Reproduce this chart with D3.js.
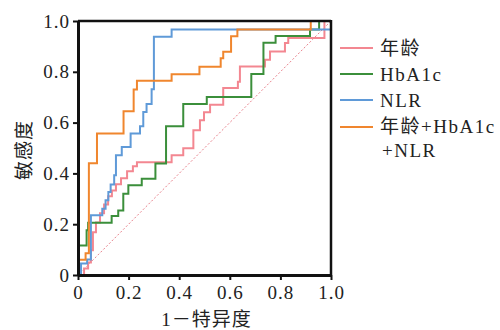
<!DOCTYPE html>
<html>
<head>
<meta charset="utf-8">
<script src="https://cdn.jsdelivr.net/npm/d3@7"></script>
<style>
  body { margin: 0; background: #fff; }
  text { font-family: "Liberation Serif", "Noto Sans CJK SC", serif; fill: #222; }
</style>
</head>
<body>
<div id="roc"></div>
<script>
// ROC curves, points are [1 - specificity, sensitivity] at the end of each step
const ageRoc = [[0, 0], [0.024, 0], [0.040, 0.026], [0.051, 0.049], [0.059, 0.097], [0.071, 0.168],
  [0.087, 0.207], [0.103, 0.243], [0.119, 0.278], [0.134, 0.31], [0.150, 0.333], [0.170, 0.357],
  [0.194, 0.381], [0.217, 0.408], [0.233, 0.428], [0.37, 0.444], [0.416, 0.471], [0.456, 0.499],
  [0.482, 0.570], [0.498, 0.609], [0.522, 0.641], [0.574, 0.670], [0.632, 0.736], [0.640, 0.761],
  [0.739, 0.821], [0.759, 0.847], [0.818, 0.880], [0.831, 0.913], [0.974, 0.933], [1, 1]];
const hba1cRoc = [[0, 0], [0.034, 0.116], [0.04, 0.176], [0.133, 0.206], [0.159, 0.232], [0.179, 0.254],
  [0.199, 0.32], [0.252, 0.353], [0.306, 0.379], [0.348, 0.439], [0.416, 0.586], [0.509, 0.673],
  [0.685, 0.701], [0.733, 0.791], [0.781, 0.914], [0.917, 0.941], [0.953, 0.967], [1, 1]];
const nlrRoc = [[0, 0], [0.012, 0], [0.036, 0.045], [0.051, 0.061], [0.096, 0.235], [0.109, 0.261],
  [0.12, 0.294], [0.129, 0.327], [0.143, 0.356], [0.150, 0.393], [0.173, 0.471], [0.208, 0.504],
  [0.245, 0.557], [0.258, 0.586], [0.271, 0.642], [0.291, 0.673], [0.300, 0.731], [0.37, 0.938],
  [1, 0.967], [1, 1]];
const comboRoc = [[0, 0], [0.03, 0.06], [0.043, 0.086], [0.075, 0.44], [0.18, 0.557], [0.22, 0.645],
  [0.233, 0.73], [0.37, 0.765], [0.48, 0.79], [0.564, 0.82], [0.574, 0.853], [0.605, 0.879],
  [0.63, 0.94], [0.92, 0.967], [1, 1]];

const seriesNames = [["年龄"], ["HbA1c"], ["NLR"], ["年龄+HbA1c", "+NLR"]];
const seriesColors = ["#f38791", "#3b8f3b", "#5f9ad8", "#f0862e"];
const tickValues = [0, 0.2, 0.4, 0.6, 0.8, 1.0];

const width = 500, height = 330;
const x = d3.scaleLinear().domain([0, 1]).range([78, 331]);
const y = d3.scaleLinear().domain([0, 1]).range([275, 21]);

const svg = d3.select("#roc")
  .append("svg")
  .attr("width", width)
  .attr("height", height);

// chance line
svg.append("line")
  .attr("x1", x(0)).attr("y1", y(0))
  .attr("x2", x(1)).attr("y2", y(1))
  .attr("stroke", "#e8808a")
  .attr("stroke-width", 1)
  .attr("stroke-dasharray", "2,2");

const line = d3.line()
  .x(d => x(d[0]))
  .y(d => y(d[1]))
  .curve(d3.curveStepBefore);

[ageRoc, hba1cRoc, nlrRoc, comboRoc].forEach((data, i) => {
  svg.append("path")
    .datum(data)
    .attr("d", line)
    .attr("fill", "none")
    .attr("stroke", seriesColors[i])
    .attr("stroke-width", 2);
});

// top and right frame
svg.append("line")
  .attr("x1", x(0)).attr("x2", x(1)).attr("y1", y(1)).attr("y2", y(1))
  .attr("stroke", "#111").attr("stroke-width", 2.5);
svg.append("line")
  .attr("x1", x(1)).attr("x2", x(1)).attr("y1", y(1) - 1).attr("y2", y(0))
  .attr("stroke", "#111").attr("stroke-width", 2.5);

const fmt = d => d === 0 ? "0" : d.toFixed(1);

const xAxis = svg.append("g")
  .attr("transform", `translate(0,${y(0)})`)
  .call(d3.axisBottom(x).tickValues(tickValues).tickFormat(fmt).tickSize(5).tickSizeOuter(0).tickPadding(6));

const yAxis = svg.append("g")
  .attr("transform", `translate(${x(0)},0)`)
  .call(d3.axisLeft(y).tickValues(tickValues).tickFormat(fmt).tickSize(5).tickSizeOuter(0).tickPadding(3));

[xAxis, yAxis].forEach(g => {
  g.select(".domain").attr("stroke", "#111").attr("stroke-width", 3);
  g.selectAll(".tick line").attr("stroke", "#111").attr("stroke-width", 2);
  g.selectAll(".tick text")
    .attr("fill", "#222")
    .style("font-family", '"Liberation Serif", serif')
    .style("font-size", "19px")
    .style("letter-spacing", "1px");
});

svg.append("text")
  .attr("x", (x(0) + x(1)) / 2 + 2)
  .attr("y", 326)
  .attr("text-anchor", "middle")
  .style("font-size", "19px")
  .style("letter-spacing", "1px")
  .text("1－特异度");

svg.append("text")
  .attr("transform", `translate(24,${(y(0) + y(1)) / 2 + 2}) rotate(-90)`)
  .attr("text-anchor", "middle")
  .attr("dy", "0.35em")
  .style("font-size", "19px")
  .style("letter-spacing", "1px")
  .text("敏感度");

// legend
const legend = svg.append("g");
seriesNames.forEach((names, i) => {
  const cy = 48 + i * 26;
  legend.append("line")
    .attr("x1", 340).attr("x2", 373)
    .attr("y1", cy + (names.length > 1 ? 1 : 0)).attr("y2", cy + (names.length > 1 ? 1 : 0))
    .attr("stroke", seriesColors[i])
    .attr("stroke-width", 2);
  names.forEach((name, j) => {
    legend.append("text")
      .attr("x", name.startsWith("+") ? 382 : 380)
      .attr("y", cy + j * 24)
      .attr("dy", "0.35em")
      .style("font-size", "19px")
      .style("letter-spacing", "1.5px")
      .text(name);
  });
});
</script>
</body>
</html>
